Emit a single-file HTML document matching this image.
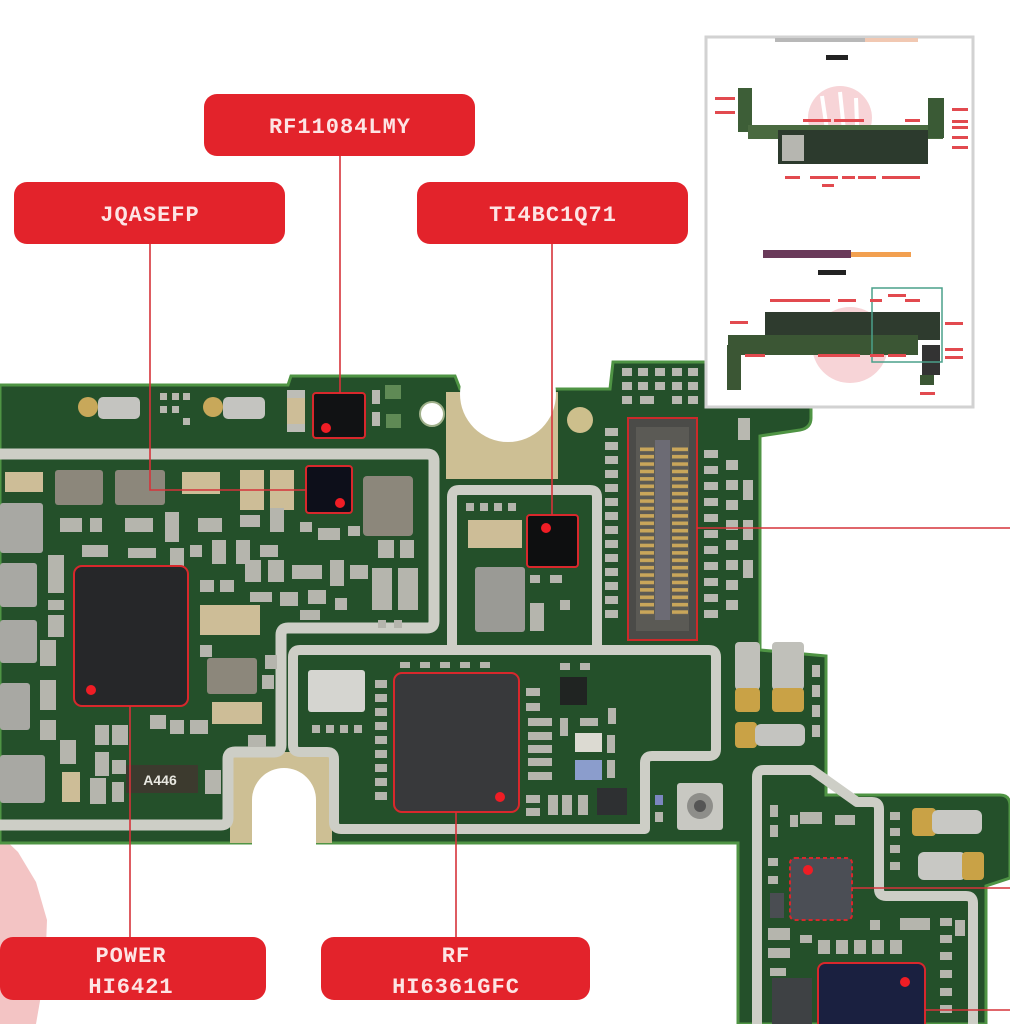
<!DOCTYPE html>
<html><head><meta charset="utf-8">
<style>
html,body{margin:0;padding:0;background:#fff;}
svg{display:block}
.lbl{font-family:"Liberation Mono","DejaVu Sans Mono",monospace;font-weight:bold;font-size:22px;fill:#fde4e4;text-anchor:middle;letter-spacing:1px}
</style></head>
<body>
<svg width="1010" height="1024" viewBox="0 0 1010 1024" xmlns="http://www.w3.org/2000/svg">
<defs>
<pattern id="pins" x="0" y="446" width="20" height="7.4" patternUnits="userSpaceOnUse">
<rect x="0" y="1.5" width="20" height="3.6" fill="#c9a65a"/>
</pattern>
</defs>
<rect width="1010" height="1024" fill="#fff"/>
<!-- pink watermark piece -->
<path d="M0,835 L18,852 L36,882 L47,920 L45,972 L36,1024 L0,1024Z" fill="#f3c4c4"/>

<!-- board -->
<path d="M0,385 L288,385 L291,376 L455,376 L460,389 L610,389 L613,362 L811,362 L811,418 Q811,428 800,430 L760,436 L760,650 L826,656 L826,795 L1000,795 Q1010,795 1010,806 L1010,878 L986,886 L986,1024 L738,1024 L738,843 L0,843Z" fill="#24502a" stroke="#4f9444" stroke-width="3"/>

<!-- top notch -->
<rect x="446" y="392" width="112" height="87" fill="#cdbf94"/>
<circle cx="508" cy="394" r="48" fill="#fff"/>
<circle cx="432" cy="414" r="12" fill="#fff" stroke="#9fb08a" stroke-width="2"/>
<circle cx="580" cy="420" r="13" fill="#cdbf8c"/>
<!-- bottom notch -->
<rect x="230" y="752" width="102" height="91" fill="#cdbf94"/>
<path d="M252,846 V800 A32,32 0 0 1 316,800 V846Z" fill="#fff"/>

<!-- shields -->
<g fill="none" stroke="#cdcec6" stroke-width="10" stroke-linejoin="round">
<path d="M0,454 H427 Q434,454 434,461 V621 Q434,628 427,628 H288 Q281,628 281,635 V745 Q281,752 274,752 H235 Q228,752 228,759 V818 Q228,825 221,825 H0" stroke-width="11"/>
<path d="M300,650 H709 Q716,650 716,657 V749 Q716,756 709,756 H652 Q645,756 645,763 V829 H341 Q334,829 334,822 V759 Q334,752 327,752 H300 Q293,752 293,745 V657 Q293,650 300,650Z"/>
<path d="M452,646 V497 Q452,490 459,490 H590 Q597,490 597,497 V646"/>
<path d="M757,1024 V777 Q757,770 764,770 H812 L857,802 H872 Q879,802 879,809 V889 Q879,896 886,896 H966 Q973,896 973,903 V1024"/>
</g>

<!-- top strip parts -->
<circle cx="88" cy="407" r="10" fill="#c8a85a"/>
<rect x="98" y="397" width="42" height="22" rx="5" fill="#c4c4c0"/>
<circle cx="213" cy="407" r="10" fill="#c8a85a"/>
<rect x="223" y="397" width="42" height="22" rx="5" fill="#c4c4c0"/>
<rect x="287" y="390" width="18" height="42" fill="#cdbd97"/>
<rect x="287" y="390" width="18" height="8" fill="#bdbdb6"/>
<rect x="287" y="424" width="18" height="8" fill="#bdbdb6"/>
<g fill="#b8b8b0">
<rect x="160" y="393" width="7" height="7"/><rect x="172" y="393" width="7" height="7"/>
<rect x="160" y="406" width="7" height="7"/><rect x="172" y="406" width="7" height="7"/>
<rect x="183" y="393" width="7" height="7"/><rect x="183" y="418" width="7" height="7"/>
<rect x="372" y="390" width="8" height="14"/><rect x="372" y="412" width="8" height="14"/>
</g>
<rect x="385" y="385" width="16" height="14" fill="#5f8a55"/>
<rect x="386" y="414" width="15" height="14" fill="#5f8a55"/>

<!-- right-top area comps -->
<g fill="#b8b8b0">
<rect x="622" y="368" width="10" height="8"/><rect x="638" y="368" width="10" height="8"/><rect x="655" y="368" width="10" height="8"/><rect x="672" y="368" width="10" height="8"/><rect x="688" y="368" width="10" height="8"/>
<rect x="622" y="382" width="10" height="8"/><rect x="638" y="382" width="10" height="8"/><rect x="655" y="382" width="10" height="8"/><rect x="672" y="382" width="10" height="8"/><rect x="688" y="382" width="10" height="8"/>
<rect x="622" y="396" width="10" height="8"/><rect x="640" y="396" width="14" height="8"/><rect x="672" y="396" width="10" height="8"/><rect x="688" y="396" width="10" height="8"/>
<rect x="605" y="428" width="13" height="8"/><rect x="605" y="442" width="13" height="8"/><rect x="605" y="456" width="13" height="8"/><rect x="605" y="470" width="13" height="8"/>
<rect x="605" y="484" width="13" height="8"/><rect x="605" y="498" width="13" height="8"/><rect x="605" y="512" width="13" height="8"/><rect x="605" y="526" width="13" height="8"/>
<rect x="605" y="540" width="13" height="8"/><rect x="605" y="554" width="13" height="8"/><rect x="605" y="568" width="13" height="8"/><rect x="605" y="582" width="13" height="8"/>
<rect x="605" y="596" width="13" height="8"/><rect x="605" y="610" width="13" height="8"/>
<rect x="704" y="450" width="14" height="8"/><rect x="704" y="466" width="14" height="8"/><rect x="704" y="482" width="14" height="8"/><rect x="704" y="498" width="14" height="8"/>
<rect x="704" y="514" width="14" height="8"/><rect x="704" y="530" width="14" height="8"/><rect x="704" y="546" width="14" height="8"/><rect x="704" y="562" width="14" height="8"/>
<rect x="704" y="578" width="14" height="8"/><rect x="704" y="594" width="14" height="8"/><rect x="704" y="610" width="14" height="8"/>
<rect x="726" y="460" width="12" height="10"/><rect x="726" y="480" width="12" height="10"/><rect x="726" y="500" width="12" height="10"/><rect x="726" y="520" width="12" height="10"/>
<rect x="726" y="540" width="12" height="10"/><rect x="726" y="560" width="12" height="10"/><rect x="726" y="580" width="12" height="10"/><rect x="726" y="600" width="12" height="10"/>
<rect x="738" y="418" width="12" height="22"/><rect x="743" y="480" width="10" height="20"/><rect x="743" y="520" width="10" height="20"/><rect x="743" y="560" width="10" height="18"/>
</g>

<!-- connector -->
<rect x="628" y="418" width="69" height="222" fill="#4b4b48" stroke="#cc2a2a" stroke-width="2"/>
<rect x="636" y="427" width="53" height="204" fill="#5b5a55"/>
<rect x="640" y="446" width="14" height="170" fill="url(#pins)"/>
<rect x="672" y="446" width="16" height="170" fill="url(#pins)"/>
<rect x="655" y="440" width="15" height="180" fill="#6c6b74"/>

<!-- gold pads right -->
<rect x="735" y="642" width="25" height="48" rx="4" fill="#c0c0ba"/>
<rect x="735" y="688" width="25" height="24" rx="4" fill="#c9a246"/>
<rect x="772" y="642" width="32" height="48" rx="4" fill="#c0c0ba"/>
<rect x="772" y="688" width="32" height="24" rx="4" fill="#c9a246"/>
<rect x="735" y="722" width="22" height="26" rx="4" fill="#c9a246"/>
<rect x="755" y="724" width="50" height="22" rx="6" fill="#c4c4c0"/>
<g fill="#b8b8b0">
<rect x="812" y="665" width="8" height="12"/><rect x="812" y="685" width="8" height="12"/><rect x="812" y="705" width="8" height="12"/><rect x="812" y="725" width="8" height="12"/>
</g>

<!-- left compartment parts -->
<g fill="#a8a8a3">
<rect x="0" y="503" width="43" height="50" rx="3"/><rect x="0" y="563" width="37" height="44" rx="3"/>
<rect x="0" y="620" width="37" height="43" rx="3"/><rect x="0" y="683" width="30" height="47" rx="3"/>
<rect x="0" y="755" width="45" height="48" rx="3"/>
</g>
<g fill="#8c877b">
<rect x="55" y="470" width="48" height="35" rx="3"/><rect x="115" y="470" width="50" height="35" rx="3"/>
<rect x="363" y="476" width="50" height="60" rx="4"/><rect x="207" y="658" width="50" height="36" rx="3"/>
</g>
<rect x="475" y="567" width="50" height="65" rx="3" fill="#9a9a95"/>
<g fill="#cdbd97">
<rect x="5" y="472" width="38" height="20"/><rect x="182" y="472" width="38" height="22"/>
<rect x="240" y="470" width="24" height="40"/><rect x="270" y="470" width="24" height="40"/>
<rect x="200" y="605" width="60" height="30"/><rect x="212" y="702" width="50" height="22"/>
<rect x="62" y="772" width="18" height="30"/><rect x="468" y="520" width="54" height="28"/>
</g>
<g fill="#b5b5ad">
<rect x="60" y="518" width="22" height="14"/><rect x="90" y="518" width="12" height="14"/><rect x="125" y="518" width="28" height="14"/>
<rect x="165" y="512" width="14" height="30"/><rect x="198" y="518" width="24" height="14"/><rect x="240" y="515" width="20" height="12"/>
<rect x="270" y="508" width="14" height="24"/><rect x="212" y="540" width="14" height="24"/><rect x="236" y="540" width="14" height="24"/>
<rect x="260" y="545" width="18" height="12"/><rect x="300" y="522" width="12" height="10"/><rect x="318" y="528" width="22" height="12"/>
<rect x="348" y="526" width="12" height="10"/><rect x="48" y="555" width="16" height="38"/><rect x="48" y="600" width="16" height="10"/>
<rect x="48" y="615" width="16" height="22"/><rect x="82" y="545" width="26" height="12"/><rect x="128" y="548" width="28" height="10"/>
<rect x="170" y="548" width="14" height="20"/><rect x="190" y="545" width="12" height="12"/><rect x="245" y="560" width="16" height="22"/>
<rect x="268" y="560" width="16" height="22"/><rect x="292" y="565" width="30" height="14"/><rect x="330" y="560" width="14" height="26"/>
<rect x="350" y="565" width="18" height="14"/><rect x="378" y="540" width="16" height="18"/><rect x="400" y="540" width="14" height="18"/>
<rect x="372" y="568" width="20" height="42"/><rect x="398" y="568" width="20" height="42"/><rect x="200" y="580" width="14" height="12"/>
<rect x="220" y="580" width="14" height="12"/><rect x="250" y="592" width="22" height="10"/><rect x="280" y="592" width="18" height="14"/>
<rect x="308" y="590" width="18" height="14"/><rect x="335" y="598" width="12" height="12"/><rect x="300" y="610" width="20" height="10"/>
<rect x="200" y="645" width="12" height="12"/><rect x="265" y="655" width="12" height="14"/><rect x="262" y="675" width="12" height="14"/>
<rect x="40" y="640" width="16" height="26"/><rect x="40" y="680" width="16" height="30"/><rect x="40" y="720" width="16" height="20"/>
<rect x="60" y="740" width="16" height="24"/><rect x="95" y="725" width="14" height="20"/><rect x="112" y="725" width="16" height="20"/>
<rect x="95" y="752" width="14" height="24"/><rect x="112" y="760" width="14" height="14"/><rect x="150" y="715" width="16" height="14"/>
<rect x="170" y="720" width="14" height="14"/><rect x="190" y="720" width="18" height="14"/><rect x="90" y="778" width="16" height="26"/>
<rect x="112" y="782" width="12" height="20"/><rect x="205" y="770" width="16" height="24"/><rect x="248" y="735" width="18" height="12"/>
<rect x="378" y="620" width="8" height="8"/><rect x="394" y="620" width="8" height="8"/>
</g>
<rect x="126" y="765" width="72" height="28" fill="#3c3a2e"/>
<text x="160" y="785" font-family="Liberation Sans,sans-serif" font-size="14" font-weight="bold" fill="#e8e8e0" text-anchor="middle">A446</text>

<!-- TI compartment extras -->
<g fill="#b5b5ad">
<rect x="466" y="503" width="8" height="8"/><rect x="480" y="503" width="8" height="8"/><rect x="494" y="503" width="8" height="8"/><rect x="508" y="503" width="8" height="8"/>
<rect x="530" y="575" width="10" height="8"/><rect x="550" y="575" width="12" height="8"/>
<rect x="530" y="603" width="14" height="28"/><rect x="560" y="600" width="10" height="10"/>
</g>

<!-- RF compartment parts -->
<rect x="308" y="670" width="57" height="42" rx="3" fill="#d5d5d0"/>
<g fill="#b5b5ad">
<rect x="375" y="680" width="12" height="8"/><rect x="375" y="694" width="12" height="8"/><rect x="375" y="708" width="12" height="8"/><rect x="375" y="722" width="12" height="8"/>
<rect x="375" y="736" width="12" height="8"/><rect x="375" y="750" width="12" height="8"/><rect x="375" y="764" width="12" height="8"/><rect x="375" y="778" width="12" height="8"/>
<rect x="375" y="792" width="12" height="8"/><rect x="312" y="725" width="8" height="8"/><rect x="326" y="725" width="8" height="8"/><rect x="340" y="725" width="8" height="8"/><rect x="354" y="725" width="8" height="8"/>
<rect x="400" y="662" width="10" height="6"/><rect x="420" y="662" width="10" height="6"/><rect x="440" y="662" width="10" height="6"/><rect x="460" y="662" width="10" height="6"/><rect x="480" y="662" width="10" height="6"/>
<rect x="526" y="688" width="14" height="8"/><rect x="526" y="703" width="14" height="8"/><rect x="528" y="718" width="10" height="8"/><rect x="538" y="718" width="14" height="8"/>
<rect x="528" y="732" width="10" height="8"/><rect x="538" y="732" width="14" height="8"/><rect x="528" y="745" width="10" height="8"/><rect x="538" y="745" width="14" height="8"/>
<rect x="528" y="758" width="10" height="8"/><rect x="538" y="758" width="14" height="8"/><rect x="528" y="772" width="10" height="8"/><rect x="538" y="772" width="14" height="8"/>
<rect x="526" y="795" width="14" height="8"/><rect x="526" y="808" width="14" height="8"/><rect x="548" y="795" width="10" height="20"/><rect x="562" y="795" width="10" height="20"/>
<rect x="578" y="795" width="10" height="20"/><rect x="560" y="718" width="8" height="18"/><rect x="607" y="735" width="8" height="18"/>
<rect x="607" y="760" width="8" height="18"/><rect x="608" y="708" width="8" height="16"/><rect x="580" y="718" width="18" height="8"/>
<rect x="560" y="663" width="10" height="7"/><rect x="580" y="663" width="10" height="7"/>
</g>
<rect x="560" y="677" width="27" height="28" fill="#202422"/>
<rect x="575" y="733" width="27" height="19" fill="#dcdad2"/>
<rect x="575" y="760" width="27" height="20" fill="#8b9dcc"/>
<rect x="597" y="788" width="30" height="27" fill="#2e3032"/>
<!-- coax -->
<rect x="677" y="783" width="46" height="47" rx="3" fill="#c8c8c2"/>
<circle cx="700" cy="806" r="13" fill="#8e8e8a"/>
<circle cx="700" cy="806" r="6" fill="#555"/>
<rect x="655" y="795" width="8" height="10" fill="#7c86c0"/>
<rect x="655" y="812" width="8" height="10" fill="#b5b5ad"/>

<!-- lower right parts -->
<rect x="912" y="808" width="24" height="28" rx="4" fill="#c9a246"/>
<rect x="932" y="810" width="50" height="24" rx="6" fill="#c8c8c4"/>
<rect x="918" y="852" width="48" height="28" rx="6" fill="#c8c8c4"/>
<rect x="962" y="852" width="22" height="28" rx="4" fill="#c9a246"/>
<g fill="#b5b5ad">
<rect x="770" y="805" width="8" height="12"/><rect x="770" y="825" width="8" height="12"/><rect x="790" y="815" width="8" height="12"/>
<rect x="800" y="812" width="22" height="12"/><rect x="835" y="815" width="20" height="10"/><rect x="890" y="812" width="10" height="8"/>
<rect x="890" y="828" width="10" height="8"/><rect x="890" y="845" width="10" height="8"/><rect x="890" y="862" width="10" height="8"/>
<rect x="768" y="858" width="10" height="8"/><rect x="768" y="876" width="10" height="8"/><rect x="770" y="893" width="14" height="25" fill="#4a4d52"/>
<rect x="768" y="928" width="22" height="12"/><rect x="768" y="948" width="22" height="10"/><rect x="770" y="968" width="16" height="8"/>
<rect x="800" y="935" width="12" height="8"/><rect x="818" y="940" width="12" height="14"/><rect x="836" y="940" width="12" height="14"/>
<rect x="854" y="940" width="12" height="14"/><rect x="872" y="940" width="12" height="14"/><rect x="890" y="940" width="12" height="14"/>
<rect x="870" y="920" width="10" height="10"/><rect x="900" y="918" width="30" height="12"/><rect x="940" y="918" width="12" height="8"/>
<rect x="940" y="935" width="12" height="8"/><rect x="940" y="952" width="12" height="8"/><rect x="940" y="970" width="12" height="8"/>
<rect x="940" y="988" width="12" height="8"/><rect x="940" y="1005" width="12" height="8"/><rect x="955" y="920" width="10" height="16"/>
</g>
<rect x="772" y="978" width="40" height="46" fill="#3e4144"/>

<!-- chips -->
<g stroke="#d8282c" stroke-width="2">
<rect x="313" y="393" width="52" height="45" rx="3" fill="#111214"/>
<rect x="306" y="466" width="46" height="47" rx="3" fill="#0d0f1a"/>
<rect x="527" y="515" width="51" height="52" rx="3" fill="#0e0f10"/>
<rect x="74" y="566" width="114" height="140" rx="8" fill="#262729"/>
<rect x="394" y="673" width="125" height="139" rx="8" fill="#38393b"/>
<rect x="790" y="858" width="62" height="62" rx="5" fill="#4b4e55" stroke-dasharray="4 3"/>
<rect x="818" y="963" width="107" height="70" rx="7" fill="#1a2040"/>
</g>
<g fill="#ef1d25">
<circle cx="326" cy="428" r="5"/><circle cx="340" cy="503" r="5"/><circle cx="546" cy="528" r="5"/>
<circle cx="91" cy="690" r="5"/><circle cx="500" cy="797" r="5"/><circle cx="808" cy="870" r="5"/><circle cx="905" cy="982" r="5"/>
</g>

<!-- connector lines -->
<g stroke="#d5333a" stroke-width="1.6" fill="none">
<path d="M340,156 V393"/>
<path d="M150,244 V490 H306"/>
<path d="M552,244 V515"/>
<path d="M130,706 V937"/>
<path d="M456,812 V937"/>
<path d="M697,528 H1010"/>
<path d="M852,888 H1010"/>
<path d="M925,1010 H1010"/>
</g>

<!-- labels -->
<g fill="#e3232b">
<rect x="204" y="94" width="271" height="62" rx="13"/>
<rect x="14" y="182" width="271" height="62" rx="13"/>
<rect x="417" y="182" width="271" height="62" rx="13"/>
<rect x="0" y="937" width="266" height="63" rx="13"/>
<rect x="321" y="937" width="269" height="63" rx="13"/>
</g>
<text class="lbl" x="340" y="133">RF11084LMY</text>
<text class="lbl" x="150" y="221">JQASEFP</text>
<text class="lbl" x="553" y="221">TI4BC1Q71</text>
<text class="lbl" x="131" y="962">POWER</text>
<text class="lbl" x="131" y="993">HI6421</text>
<text class="lbl" x="456" y="962">RF</text>
<text class="lbl" x="456" y="993">HI6361GFC</text>

<!-- inset -->
<rect x="706" y="37" width="267" height="370" fill="#fff" stroke="#d2d2d2" stroke-width="3"/>
<rect x="775" y="38" width="90" height="4" fill="#b8b8b8"/>
<rect x="865" y="38" width="53" height="4" fill="#f1c8b2"/>
<rect x="826" y="55" width="22" height="5" fill="#222"/>
<circle cx="840" cy="118" r="32" fill="#f7d4d7"/>
<path d="M822,96 L830,150 M840,92 L846,150 M856,98 L858,150" stroke="#fff" stroke-width="4"/>
<rect x="738" y="88" width="14" height="44" fill="#3d5e37"/>
<rect x="748" y="125" width="195" height="14" fill="#4a6a40"/>
<rect x="778" y="130" width="150" height="34" fill="#2c3a2d"/>
<rect x="782" y="135" width="22" height="26" fill="#b6b6b0"/>
<rect x="928" y="98" width="16" height="40" fill="#3a5a35"/>
<g fill="#e24a4f">
<rect x="715" y="97" width="20" height="3"/><rect x="715" y="111" width="20" height="3"/><rect x="803" y="119" width="28" height="3"/>
<rect x="834" y="119" width="30" height="3"/><rect x="905" y="119" width="15" height="3"/><rect x="952" y="108" width="16" height="3"/>
<rect x="952" y="120" width="16" height="3"/><rect x="952" y="126" width="16" height="3"/><rect x="952" y="136" width="16" height="3"/>
<rect x="952" y="146" width="16" height="3"/><rect x="785" y="176" width="15" height="3"/><rect x="810" y="176" width="28" height="3"/>
<rect x="842" y="176" width="13" height="3"/><rect x="858" y="176" width="18" height="3"/><rect x="882" y="176" width="38" height="3"/>
<rect x="822" y="184" width="12" height="3"/>
</g>
<rect x="763" y="250" width="88" height="8" fill="#6a3a5a"/>
<rect x="851" y="252" width="60" height="5" fill="#f2a050"/>
<rect x="818" y="270" width="28" height="5" fill="#222"/>
<circle cx="850" cy="345" r="38" fill="#f7d4d7"/>
<rect x="765" y="312" width="175" height="28" fill="#2e3b2e"/>
<rect x="728" y="335" width="190" height="20" fill="#3b5634"/>
<rect x="727" y="345" width="14" height="45" fill="#3b5634"/>
<rect x="922" y="345" width="18" height="30" fill="#333"/>
<rect x="920" y="375" width="14" height="10" fill="#3b5634"/>
<rect x="872" y="288" width="70" height="74" fill="none" stroke="#4aa08a" stroke-width="1.5"/>
<g fill="#e24a4f">
<rect x="730" y="321" width="18" height="3"/><rect x="770" y="299" width="60" height="3"/><rect x="838" y="299" width="18" height="3"/>
<rect x="870" y="299" width="12" height="3"/><rect x="888" y="294" width="18" height="3"/><rect x="905" y="299" width="15" height="3"/>
<rect x="945" y="322" width="18" height="3"/><rect x="745" y="354" width="20" height="3"/><rect x="818" y="354" width="42" height="3"/>
<rect x="870" y="354" width="14" height="3"/><rect x="888" y="354" width="18" height="3"/><rect x="945" y="348" width="18" height="3"/>
<rect x="945" y="356" width="18" height="3"/><rect x="920" y="392" width="15" height="3"/>
</g>
</svg>
</body></html>
